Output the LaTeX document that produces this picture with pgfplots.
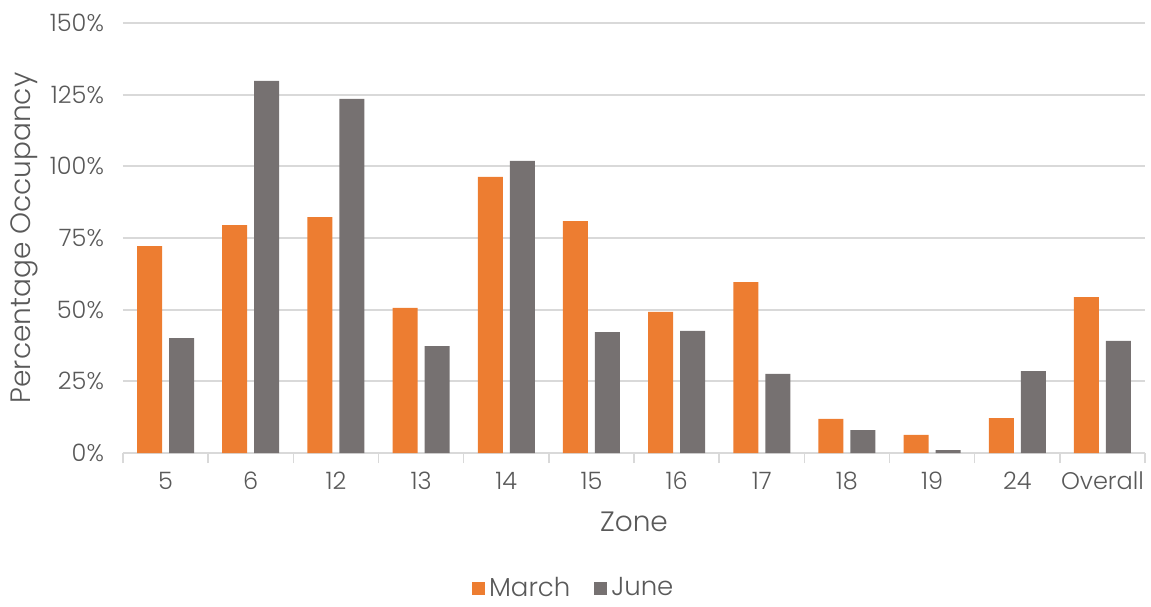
\documentclass[border=0pt]{standalone}
\usepackage{fontspec}
\setmainfont{Poppins}[UprightFont=* Light]
\usepackage{pgfplots}
\pgfplotsset{compat=1.18}
\definecolor{march}{HTML}{ED7D31}
\definecolor{june}{HTML}{767171}
\definecolor{gridc}{HTML}{D9D9D9}
\definecolor{txt}{HTML}{595959}

\begin{document}
\begin{tikzpicture}[font=\fontsize{12}{14}\selectfont]
\path[use as bounding box] (-61.5pt,-76.5pt) rectangle (514pt,226.5pt);
\begin{axis}[
    scale only axis,
    width=511pt, height=215pt,
    ybar, bar width=12.5pt, ybar=3.5pt,
    xmin=-0.5, xmax=11.5, ymin=0, ymax=150,
    axis x line*=bottom, axis y line*=left,
    x axis line style={draw=gridc, line width=0.75pt, -},
    y axis line style={draw=none},
    xtick={-0.5,0.5,...,11.5}, xticklabels=\empty,
    xtick align=outside, major tick length=5pt,
    xtick style={draw=gridc, line width=0.75pt},
    extra x ticks={0,...,11},
    extra x tick labels={5,6,12,13,14,15,16,17,18,19,24,Overall},
    extra x tick style={major tick length=0pt, grid=none},
    xticklabel style={text=txt, yshift=-6pt},
    ytick={0,25,...,150},
    yticklabels={0\%,25\%,50\%,75\%,100\%,125\%,150\%},
    ytick style={draw=none},
    yticklabel style={text=txt, xshift=-6pt},
    ymajorgrids, grid style={gridc, line width=0.9pt},
    xlabel={Zone}, ylabel={Percentage Occupancy},
    xlabel style={at={(axis description cs:0.5,-0.16)}, anchor=center, text=txt, font=\fontsize{14}{16}\selectfont},
    ylabel style={at={(axis description cs:-0.097,0.5)}, anchor=center, text=txt, font=\fontsize{14}{16}\selectfont},
    legend style={at={(axis description cs:0.442,-0.314)}, anchor=center, draw=none,
        legend columns=2, text=txt, font=\fontsize{13}{15}\selectfont,
        inner sep=1pt,
        /tikz/every even column/.append style={column sep=10pt}},
    legend image code/.code={\fill[#1] (0pt,-3.25pt) rectangle (6.5pt,3.25pt);},
]
\addplot[fill=march, draw=none] coordinates {
    (0,72.2) (1,79.5) (2,82.3) (3,50.6) (4,96.3) (5,80.9)
    (6,49.2) (7,59.6) (8,11.9) (9,6.3) (10,12.2) (11,54.4)
};
\addlegendentry{March}
\addplot[fill=june, draw=none] coordinates {
    (0,40.1) (1,129.8) (2,123.5) (3,37.3) (4,101.9) (5,42.2)
    (6,42.6) (7,27.6) (8,8.0) (9,1.0) (10,28.6) (11,39.1)
};
\addlegendentry{June}
\end{axis}
\end{tikzpicture}
\end{document}
